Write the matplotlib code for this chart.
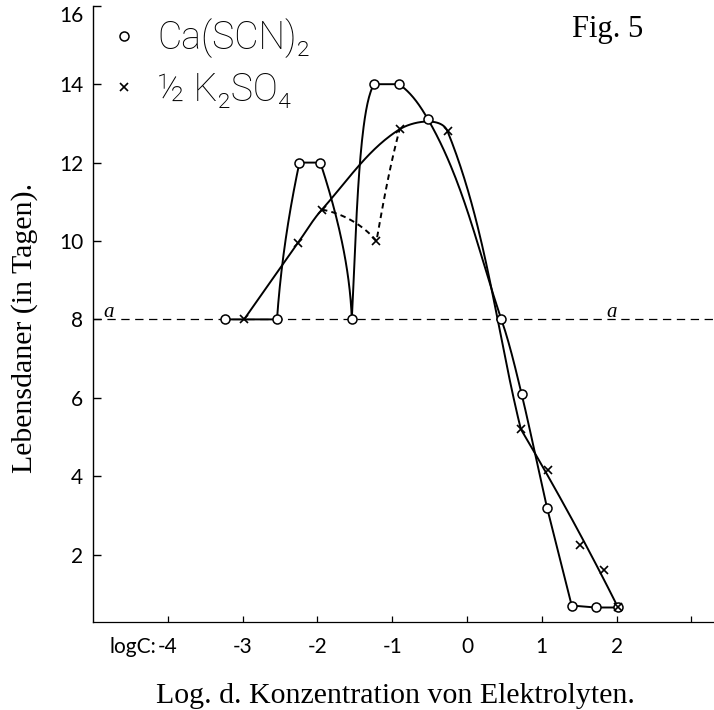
import numpy as np
import matplotlib
matplotlib.use("Agg")
import matplotlib.pyplot as plt
from matplotlib.lines import Line2D
from matplotlib.font_manager import FontProperties

# ---------------- data ----------------
# log concentration (x) and life span in days (y)
ca_x = [-3.23, -2.54, -2.24, -1.96, -1.54, -1.24, -0.91, -0.52, 0.46, 0.73, 1.07, 1.40, 1.72, 2.02]
ca_y = [8.0, 8.0, 12.0, 12.0, 8.0, 14.0, 14.0, 13.1, 8.0, 6.1, 3.2, 0.7, 0.65, 0.65]

k_x = [-2.98, -2.26, -1.94, -0.90, -0.26, 0.72, 1.08, 1.51, 1.83, 2.02]
k_y = [8.0, 9.95, 10.8, 12.85, 12.8, 5.2, 4.15, 2.25, 1.6, 0.65]
# alternative (dashed) branch point of the K2SO4 series
k_alt_x = [-1.21]
k_alt_y = [10.0]

ref_level = 8.0

x_ticks = [-4, -3, -2, -1, 0, 1, 2, 3]
x_ticklabels = ["-4", "-3", "-2", "-1", "0", "1", "2", ""]
y_ticks = [2, 4, 6, 8, 10, 12, 14, 16]
y_ticklabels = ["2", "4", "6", "8", "10", "12", "14", "16"]

series_labels = ["Ca(SCN)\u2082", "\u00bd K\u2082SO\u2084"]

# ---------------- figure ----------------
plt.rcParams["lines.scale_dashes"] = False
SANS = ["Lato", "DejaVu Sans"]
LEG_SANS = ["Roboto", "DejaVu Sans"]
SERIF = ["Liberation Serif", "DejaVu Serif"]

fig = plt.figure(figsize=(7.14, 7.10), dpi=100)
ax = fig.add_axes([93 / 714, 88 / 710, 620.8 / 714, 616.2 / 710])
ax.set_xlim(-5.0, 3.30)
ax.set_ylim(0.28, 16.0)

T = ax.transData


def disp(xs, ys):
    return T.transform(np.column_stack([xs, ys]))


def back(P):
    return T.inverted().transform(P)


def ua(deg):
    r = np.radians(deg)
    return np.array([np.cos(r), np.sin(r)])


def unit(v):
    return v / np.hypot(v[0], v[1])


def hermite(P0, P1, d0, d1, k0=1.0, k1=1.0, n=50):
    L = np.hypot(*(P1 - P0))
    t = np.linspace(0, 1, n)[:, None]
    h00 = 2 * t**3 - 3 * t**2 + 1
    h10 = t**3 - 2 * t**2 + t
    h01 = -2 * t**3 + 3 * t**2
    h11 = t**3 - t**2
    return h00 * P0 + h10 * L * k0 * d0 + h01 * P1 + h11 * L * k1 * d1


def spline(P, d_start=None, d_end=None, overrides=None):
    n = len(P)
    D = []
    for i in range(n):
        if overrides and i in overrides:
            D.append(overrides[i])
        elif i == 0:
            D.append(d_start if d_start is not None else unit(P[1] - P[0]))
        elif i == n - 1:
            D.append(d_end if d_end is not None else unit(P[-1] - P[-2]))
        else:
            D.append(unit(P[i + 1] - P[i - 1]))
    return np.vstack([hermite(P[i], P[i + 1], D[i], D[i + 1]) for i in range(n - 1)])


def smooth_fall(P, weights, deg=2, n=80):
    """Hand-drawn style smoothed descending branch: x fitted as a polynomial of y."""
    coef = np.polyfit(P[:, 1], P[:, 0], deg, w=weights)
    ys = np.linspace(P[0, 1], P[-1, 1], n)
    xs = np.polyval(coef, ys)
    return np.column_stack([xs, ys])


LW = 1.4

# reference level line "a ---- a"
ax.axhline(ref_level, color="black", lw=0.9, ls=(0, (6, 4)), zorder=1)

# Ca(SCN)2 curve
Pc = disp(ca_x, ca_y)
ca_path = np.vstack([
    Pc[0:2],
    hermite(Pc[1], Pc[2], ua(86), ua(78)),
    Pc[2:4],
    hermite(Pc[3], Pc[4], ua(-72), ua(-88)),
    hermite(Pc[4], Pc[5], ua(87), ua(55), k0=1.0, k1=0.35),
    Pc[5:7],
    spline(Pc[6:11], d_start=ua(-34), d_end=unit(Pc[11] - Pc[9]), overrides={1: ua(-60)}),
    Pc[10:14],
])
ca_line = back(ca_path)
ax.plot(ca_line[:, 0], ca_line[:, 1], color="black", lw=LW, zorder=3)

# K2SO4 curve (solid): interpolated rise, smoothed lower fall
Pk = disp(k_x, k_y)
k_path = np.vstack([
    spline(Pk[:6], d_end=unit(Pk[5] - Pk[4])),
    smooth_fall(Pk[5:], weights=[8, 1, 1, 1, 8]),
])
k_line = back(k_path)
ax.plot(k_line[:, 0], k_line[:, 1], color="black", lw=LW, zorder=3)

# K2SO4 alternative branch (dashed)
Pa = disp(k_alt_x, k_alt_y)[0]
dash_path = np.vstack([
    hermite(Pk[2], Pa, ua(-10), ua(-50)),
    hermite(Pa, Pk[3], ua(80), ua(75)),
])
dash_line = back(dash_path)
ax.plot(dash_line[:, 0], dash_line[:, 1], color="black", lw=LW, ls=(0, (4, 3)), zorder=3)

# markers
ax.plot(ca_x, ca_y, ls="none", marker="o", ms=6.5, mfc="white", mec="black", mew=1.1, zorder=5)
ax.plot(k_x + k_alt_x, k_y + k_alt_y, ls="none", marker="x", ms=6, mec="black", mew=1.2, zorder=6)

# "a" labels on the reference line
ax.text(-4.79, ref_level + 0.06, "a", fontsize=15, style="italic", family=SERIF,
        ha="center", va="baseline")
ax.text(1.94, ref_level + 0.06, "a", fontsize=15, style="italic", family=SERIF,
        ha="center", va="baseline")

# axes styling
for s in ("top", "right"):
    ax.spines[s].set_visible(False)
ax.spines["left"].set_linewidth(1.0)
ax.spines["bottom"].set_linewidth(0.9)

ax.set_xticks(x_ticks)
ax.set_xticklabels(x_ticklabels, family=SANS, fontsize=15)
ax.set_yticks(y_ticks)
ax.set_yticklabels(y_ticklabels, family=SANS, fontsize=15)
ax.tick_params(axis="x", direction="in", length=4, width=0.9, pad=11)
ax.tick_params(axis="y", direction="in", length=6, width=1.0, pad=7)
for lbl in ax.get_yticklabels():
    if lbl.get_text() == "16":
        lbl.set_verticalalignment("top")

ax.annotate("logC:", xy=(-4, 0), xycoords=("data", "axes fraction"),
            xytext=(-8, -11), textcoords="offset points",
            ha="right", va="top", fontsize=15, family=SANS)

ax.set_xlabel("Log. d. Konzentration von Elektrolyten.", family=SERIF, fontsize=21.5)
ax.xaxis.set_label_coords((395 - 93) / 620.8, -(696 - 622) / 616.2)
ax.xaxis.label.set_va("center")
ax.set_ylabel("Lebensdaner (in Tagen).", family=SERIF, fontsize=21.5)
ax.yaxis.set_label_coords(-(93 - 24.5) / 620.8, (622 - 328) / 616.2)
ax.yaxis.label.set_va("center")

# legend
handles = [
    Line2D([], [], ls="none", marker="o", ms=6.5, mfc="white", mec="black", mew=1.1),
    Line2D([], [], ls="none", marker="x", ms=6, mec="black", mew=1.2),
]
leg = ax.legend(handles, series_labels, loc="upper left",
                bbox_to_anchor=(114 / 714, 1 - 18 / 710), bbox_transform=fig.transFigure,
                frameon=False, prop=FontProperties(family=LEG_SANS, size=27, weight="light"),
                handlelength=0.55, handletextpad=0.6, labelspacing=0.35,
                borderpad=0, borderaxespad=0)
for txt in leg.get_texts():
    txt.set_color("black")

fig.text(572 / 714, 1 - 37 / 710, "Fig. 5", family=SERIF, fontsize=22,
         ha="left", va="baseline")

fig.savefig("out.png", dpi=100)
